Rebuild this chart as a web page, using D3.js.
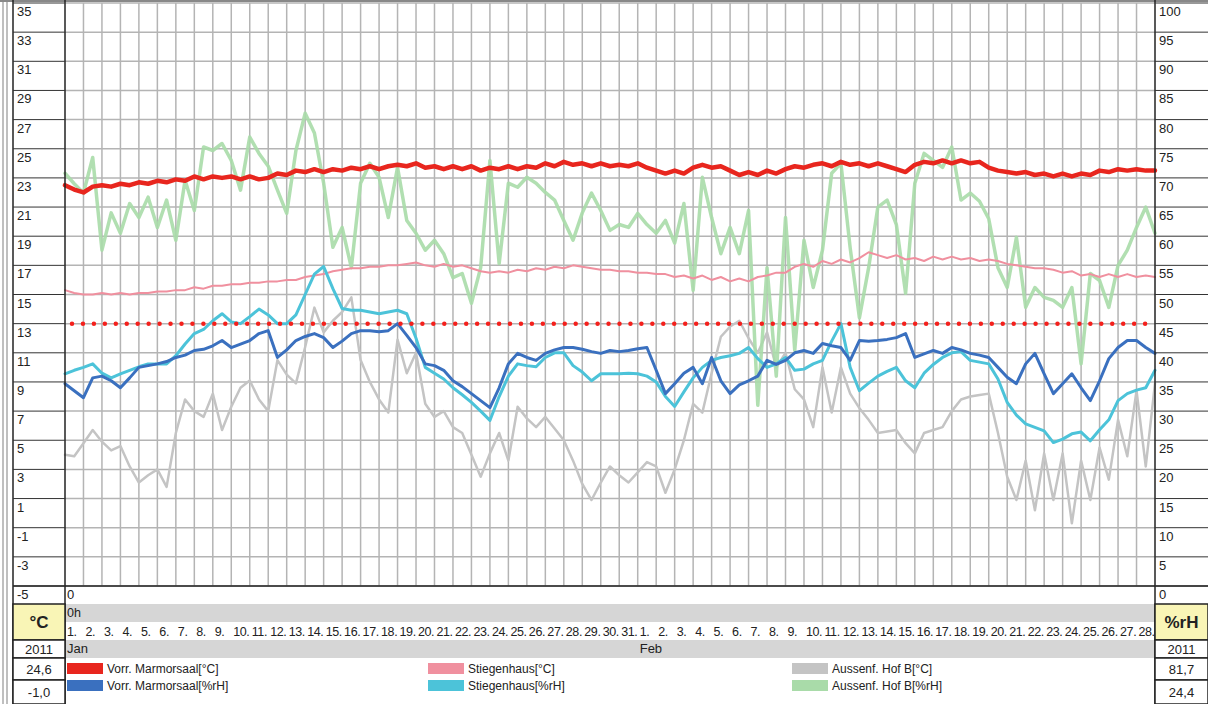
<!DOCTYPE html>
<html>
<head>
    <meta charset="utf-8">
    <title></title>
    <style>
        body { margin: 0; background: #fff; }
        text { font-family: "Liberation Sans", Arial, sans-serif; fill: #222; }
        .grid { stroke: #b4b4b4; stroke-width: 1.5px; }
        .cell { stroke: #333; stroke-width: 1px; }
        .series { fill: none; stroke-linejoin: round; stroke-linecap: round; }
    </style>
</head>
<body>
<script src="https://d3js.org/d3.v7.min.js"></script>
<script>
// months shown on the time axis
var months = ["Jan", "Feb"];
var monthDays = [31, 28];
var stepDays = 0.5; // one value every 12 h, starting 1 Jan 0h

var leftTicks = [35, 33, 31, 29, 27, 25, 23, 21, 19, 17, 15, 13, 11, 9, 7, 5, 3, 1, -1, -3, -5];
var rightTicks = [100, 95, 90, 85, 80, 75, 70, 65, 60, 55, 50, 45, 40, 35, 30, 25, 20, 15, 10, 5, 0];
var limitT = 13;

// Vorr. Marmorsaal [°C]
var marmorT = [
    22.5, 22.2, 22.0, 22.4, 22.5, 22.4, 22.6, 22.5, 22.7, 22.6,
    22.8, 22.7, 22.9, 22.8, 23.1, 22.9, 23.1, 23.0, 23.1, 22.9,
    23.1, 22.9, 23.0, 23.3, 23.2, 23.5, 23.4, 23.6, 23.4, 23.6,
    23.5, 23.7, 23.6, 23.8, 23.6, 23.8, 23.9, 23.8, 24.0, 23.7,
    23.8, 23.6, 23.8, 23.6, 23.8, 23.5, 23.7, 23.6, 23.8, 23.6,
    23.8, 23.7, 24.0, 23.8, 24.1, 23.9, 24.0, 23.8, 24.0, 23.8,
    23.9, 23.8, 24.0, 23.7, 23.5, 23.3, 23.5, 23.3, 23.7, 23.9,
    23.7, 23.8, 23.5, 23.2, 23.4, 23.2, 23.5, 23.3, 23.6, 23.8,
    23.7, 23.9, 24.0, 23.8, 24.1, 23.9, 24.0, 23.8, 24.0, 23.8,
    23.6, 23.4, 23.9, 24.1, 24.0, 24.2, 24.0, 24.2, 24.0, 24.1,
    23.7, 23.5, 23.4, 23.3, 23.4, 23.2, 23.3, 23.1, 23.3, 23.1,
    23.3, 23.2, 23.5, 23.4, 23.6, 23.5, 23.6, 23.5, 23.5
];

// Stiegenhaus [°C]
var stiegeT = [
    15.3, 15.1, 15.0, 15.0, 15.1, 15.0, 15.1, 15.0, 15.1, 15.1,
    15.2, 15.2, 15.3, 15.3, 15.5, 15.4, 15.6, 15.6, 15.7, 15.7,
    15.8, 15.8, 15.9, 15.9, 16.0, 16.0, 16.2, 16.3, 16.4, 16.6,
    16.7, 16.8, 16.8, 16.9, 16.9, 17.0, 17.0, 17.1, 17.2, 17.0,
    16.9, 17.1, 16.9, 17.0, 16.8, 16.6, 16.5, 16.6, 16.5, 16.7,
    16.6, 16.8, 16.7, 16.9, 16.8, 17.0, 16.9, 16.8, 16.7, 16.7,
    16.6, 16.6, 16.5, 16.5, 16.4, 16.4, 16.2, 16.3, 16.1, 16.3,
    16.0, 16.2, 15.9, 16.1, 15.9, 16.2, 16.3, 16.5, 16.5, 16.9,
    17.1, 16.9, 17.3, 17.1, 17.4, 17.2, 17.5, 17.9, 17.7, 17.5,
    17.7, 17.4, 17.5, 17.3, 17.6, 17.4, 17.6, 17.4, 17.5, 17.3,
    17.4, 17.3, 17.1, 17.0, 16.9, 16.8, 16.8, 16.7, 16.5, 16.6,
    16.3, 16.4, 16.2, 16.4, 16.2, 16.4, 16.2, 16.3, 16.2
];

// Aussenf. Hof B [°C]
var hofT = [
    4.0, 3.9, 4.8, 5.7, 4.9, 4.3, 4.6, 3.2, 2.1, 2.6,
    3.0, 1.8, 5.5, 7.8, 7.0, 6.6, 8.2, 5.7, 7.3, 8.6,
    9.1, 7.8, 7.0, 10.5, 9.5, 8.9, 11.4, 14.1, 12.4, 13.2,
    13.8, 14.8, 10.5, 9.0, 7.8, 6.9, 11.9, 9.6, 11.0, 7.5,
    6.6, 7.0, 5.9, 5.5, 4.0, 2.5, 4.1, 5.5, 3.6, 7.3,
    6.5, 5.9, 6.6, 5.8, 5.0, 3.6, 2.0, 0.9, 2.1, 3.2,
    2.6, 2.1, 2.8, 3.5, 3.2, 1.4, 3.0, 5.0, 7.5, 6.9,
    9.6, 12.1, 12.8, 13.2, 12.0, 11.0, 12.4, 10.0, 11.0, 8.5,
    7.8, 5.9, 10.0, 6.9, 10.0, 8.2, 7.2, 6.4, 5.5, 5.6,
    5.7, 4.8, 4.1, 5.5, 5.7, 5.9, 7.0, 7.8, 8.0, 8.1,
    8.2, 5.5, 2.5, 0.9, 3.6, 0.2, 4.1, 0.9, 4.1, -0.7,
    3.6, 0.9, 4.5, 2.3, 6.4, 3.9, 8.4, 3.2, 8.9
];

// Vorr. Marmorsaal [%rH]
var marmorH = [
    34.7, 33.5, 32.3, 35.7, 36.0, 35.2, 34.0, 35.7, 37.5, 37.8,
    38.1, 38.5, 39.2, 39.6, 40.4, 40.6, 41.2, 42.1, 40.9, 41.5,
    42.1, 43.3, 43.8, 39.2, 40.5, 42.1, 42.8, 43.3, 42.6, 40.9,
    42.0, 43.3, 43.8, 43.8, 43.6, 43.8, 45.0, 43.0, 40.9, 38.1,
    37.8, 37.0, 35.2, 34.2, 33.0, 31.8, 30.6, 34.0, 38.1, 39.9,
    39.2, 38.7, 39.9, 40.5, 40.9, 40.9, 40.6, 40.2, 39.9, 40.4,
    40.2, 40.4, 40.7, 40.9, 37.0, 33.0, 34.7, 36.5, 37.5, 34.7,
    39.2, 35.2, 33.0, 34.5, 35.2, 36.0, 38.7, 38.0, 38.7, 40.0,
    40.4, 39.9, 41.6, 41.2, 40.9, 38.7, 42.1, 42.0, 42.1, 42.3,
    42.6, 43.3, 39.2, 39.8, 40.4, 39.9, 40.9, 40.5, 39.9, 39.6,
    39.2, 37.5, 35.8, 34.7, 38.1, 39.9, 36.4, 33.0, 34.7, 36.4,
    34.0, 31.8, 35.2, 39.0, 40.9, 42.1, 42.1, 40.9, 39.9
];

// Stiegenhaus [%rH]
var stiegeH = [
    36.4, 37.0, 37.5, 38.1, 36.5, 35.7, 36.4, 37.0, 37.6, 38.1,
    38.1, 38.1, 39.5, 41.5, 43.3, 44.0, 45.5, 46.7, 45.3, 45.0,
    46.2, 47.5, 46.5, 45.0, 45.0, 46.5, 50.0, 53.5, 54.8, 51.0,
    47.6, 47.3, 47.3, 47.0, 46.7, 47.0, 47.3, 46.7, 42.5, 37.5,
    36.5, 35.5, 34.0, 32.8, 31.5, 30.0, 28.4, 32.5, 36.0, 38.1,
    37.8, 37.6, 39.2, 40.0, 40.0, 37.8, 36.7, 35.2, 36.4, 36.4,
    36.4, 36.5, 36.4, 36.0, 35.0, 32.5, 30.8, 33.3, 35.7, 37.5,
    38.7, 39.2, 39.5, 39.9, 40.9, 39.0, 37.5, 38.1, 39.2, 37.0,
    37.2, 38.1, 38.7, 42.0, 45.0, 37.5, 33.5, 34.8, 36.0, 36.8,
    37.5, 35.2, 34.0, 36.5, 38.0, 39.2, 40.0, 40.2, 38.7, 38.4,
    38.1, 35.5, 31.5, 29.3, 27.8, 27.2, 26.6, 24.6, 25.2, 26.1,
    26.4, 24.9, 26.8, 28.5, 31.8, 33.0, 33.6, 34.0, 37.0
];

// Aussenf. Hof B [%rH]
var hofH = [
    70.8, 69.0, 67.4, 73.5, 57.6, 64.0, 60.5, 65.6, 63.2, 66.7,
    61.5, 66.2, 59.3, 69.6, 64.4, 75.3, 74.7, 75.9, 73.0, 67.9,
    77.0, 74.2, 72.0, 67.9, 63.9, 74.7, 81.1, 77.7, 69.1, 58.1,
    61.5, 54.6, 69.1, 72.5, 70.1, 63.2, 71.8, 62.7, 60.5, 57.6,
    59.3, 57.0, 52.9, 53.6, 48.5, 54.6, 73.0, 55.3, 69.1, 68.4,
    70.1, 69.1, 67.5, 66.2, 62.7, 59.3, 64.0, 67.4, 64.4, 61.0,
    62.0, 61.5, 63.9, 62.0, 60.5, 62.7, 58.8, 65.6, 50.7, 70.1,
    63.2, 57.0, 61.5, 57.0, 64.4, 31.0, 54.6, 36.0, 63.2, 40.4,
    59.3, 51.2, 57.6, 70.8, 72.5, 58.0, 46.0, 54.6, 65.0, 66.2,
    62.0, 50.2, 69.1, 74.2, 73.0, 71.8, 75.3, 66.2, 67.4, 66.0,
    63.0, 54.6, 51.2, 59.8, 47.8, 51.2, 49.5, 49.0, 47.8, 51.2,
    38.1, 53.6, 52.4, 47.8, 55.0, 57.6, 61.5, 65.0, 60.5
];

var seriesNames = ["Vorr. Marmorsaal[°C]", "Vorr. Marmorsaal[%rH]", "Stiegenhaus[°C]",
    "Stiegenhaus[%rH]", "Aussenf. Hof B[°C]", "Aussenf. Hof B[%rH]"];
var seriesColors = ["#e8261e", "#3a70bf", "#f0909f", "#4cc3d9", "#c4c4c4", "#a9dba9"];

var width = 1208, height = 704;
var plotLeft = 65, plotRight = 1155, plotTop = 3, plotBottom = 586;
var totalDays = d3.sum(monthDays);

var svg = d3.select("body").append("svg")
    .attr("width", width)
    .attr("height", height);

var x = d3.scaleLinear().domain([0, totalDays]).range([plotLeft, plotRight]);
var yT = d3.scaleLinear().domain([-5, 35]).range([plotBottom, plotTop]);
var yH = d3.scaleLinear().domain([0, 100]).range([plotBottom, plotTop]);

// outer frame lines on the far left
svg.append("line").attr("x1", 3).attr("x2", 3).attr("y1", 0).attr("y2", height)
    .attr("stroke", "#aaa").attr("stroke-width", 1.5);
svg.append("line").attr("x1", 7).attr("x2", 7).attr("y1", 0).attr("y2", height)
    .attr("stroke", "#aaa").attr("stroke-width", 1.5);

// grey bands under the time axis
svg.append("rect").attr("x", plotLeft).attr("y", 604).attr("width", plotRight - plotLeft).attr("height", 18)
    .attr("fill", "#d6d6d6");
svg.append("rect").attr("x", plotLeft).attr("y", 640).attr("width", plotRight - plotLeft).attr("height", 18)
    .attr("fill", "#d6d6d6");

// grid
var dayIdx = d3.range(1, totalDays);
svg.append("g").selectAll("line")
    .data(dayIdx)
    .enter().append("line")
    .attr("class", "grid")
    .attr("x1", function(d) { return x(d); })
    .attr("x2", function(d) { return x(d); })
    .attr("y1", plotTop)
    .attr("y2", plotBottom);

svg.append("g").selectAll("line")
    .data(leftTicks)
    .enter().append("line")
    .attr("class", "grid")
    .attr("stroke", "#aaa")
    .attr("x1", plotLeft)
    .attr("x2", plotRight)
    .attr("y1", function(d) { return yT(d); })
    .attr("y2", function(d) { return yT(d); });

// series
function makeLine(scale) {
    return d3.line()
        .x(function(d, i) { return x(i * stepDays); })
        .y(function(d) { return scale(d); });
}

var layers = [
    { values: hofT, scale: yT, color: seriesColors[4], w: 2.5, op: 1 },
    { values: hofH, scale: yH, color: seriesColors[5], w: 3.5, op: 0.9 },
    { values: stiegeT, scale: yT, color: seriesColors[2], w: 2, op: 1 },
    { values: marmorT, scale: yT, color: seriesColors[0], w: 4.5, op: 1 },
    { values: stiegeH, scale: yH, color: seriesColors[3], w: 3, op: 1 },
    { values: marmorH, scale: yH, color: seriesColors[1], w: 3, op: 1 }
];

svg.append("g").selectAll("path")
    .data(layers)
    .enter().append("path")
    .attr("class", "series")
    .attr("d", function(d) { return makeLine(d.scale)(d.values); })
    .attr("stroke", function(d) { return d.color; })
    .attr("stroke-width", function(d) { return d.w; })
    .attr("stroke-opacity", function(d) { return d.op; });

// limit line (13 °C)
svg.append("line")
    .attr("x1", plotLeft + 7).attr("x2", plotRight - 4)
    .attr("y1", yT(limitT)).attr("y2", yT(limitT))
    .attr("stroke", "#f4201c")
    .attr("stroke-width", 4.5)
    .attr("stroke-linecap", "round")
    .attr("stroke-dasharray", "0 10.95");

// plot frame
svg.append("line").attr("x1", 0).attr("x2", width).attr("y1", 1).attr("y2", 1)
    .attr("stroke", "#888").attr("stroke-width", 2);
svg.append("line").attr("x1", plotLeft).attr("x2", plotLeft).attr("y1", 0).attr("y2", 704)
    .attr("stroke", "#222").attr("stroke-width", 1.5);
svg.append("line").attr("x1", plotRight).attr("x2", plotRight).attr("y1", 0).attr("y2", 704)
    .attr("stroke", "#222").attr("stroke-width", 1.5);
svg.append("line").attr("x1", 13).attr("x2", width).attr("y1", plotBottom).attr("y2", plotBottom)
    .attr("stroke", "#222").attr("stroke-width", 1.5);
svg.append("line").attr("x1", 13).attr("x2", 13).attr("y1", 0).attr("y2", 704)
    .attr("stroke", "#222").attr("stroke-width", 1.5);

// left axis cells
svg.append("g").selectAll("line")
    .data(leftTicks)
    .enter().append("line")
    .attr("class", "cell")
    .attr("x1", 13).attr("x2", plotLeft)
    .attr("y1", function(d) { return yT(d); })
    .attr("y2", function(d) { return yT(d); });

svg.append("g").selectAll("text")
    .data(leftTicks)
    .enter().append("text")
    .attr("x", 17)
    .attr("y", function(d) { return yT(d) + 13; })
    .attr("font-size", 13)
    .text(function(d) { return d; });

// right axis cells
svg.append("g").selectAll("line")
    .data(rightTicks)
    .enter().append("line")
    .attr("class", "cell")
    .attr("x1", plotRight).attr("x2", width)
    .attr("y1", function(d) { return yH(d); })
    .attr("y2", function(d) { return yH(d); });

svg.append("g").selectAll("text")
    .data(rightTicks)
    .enter().append("text")
    .attr("x", plotRight + 4)
    .attr("y", function(d) { return yH(d) + 13; })
    .attr("font-size", 13)
    .text(function(d) { return d; });

// info boxes below the axes
var boxes = [
    { x0: 13, x1: plotLeft, y0: 604, y1: 640, label: "°C", fill: "#f9f5b6", bold: true },
    { x0: 13, x1: plotLeft, y0: 640, y1: 658, label: "2011", fill: "#fff" },
    { x0: 13, x1: plotLeft, y0: 658, y1: 680, label: "24,6", fill: "#fff" },
    { x0: 13, x1: plotLeft, y0: 680, y1: 704, label: "-1,0", fill: "#fff" },
    { x0: plotRight, x1: width, y0: 604, y1: 640, label: "%rH", fill: "#f9f5b6", bold: true },
    { x0: plotRight, x1: width, y0: 640, y1: 658, label: "2011", fill: "#fff" },
    { x0: plotRight, x1: width, y0: 658, y1: 680, label: "81,7", fill: "#fff" },
    { x0: plotRight, x1: width, y0: 680, y1: 704, label: "24,4", fill: "#fff" }
];

var box = svg.append("g").selectAll("g")
    .data(boxes)
    .enter().append("g");

box.append("rect")
    .attr("x", function(d) { return d.x0; })
    .attr("y", function(d) { return d.y0; })
    .attr("width", function(d) { return d.x1 - d.x0; })
    .attr("height", function(d) { return d.y1 - d.y0; })
    .attr("fill", function(d) { return d.fill; })
    .attr("stroke", "#222")
    .attr("stroke-width", 1.5);

box.append("text")
    .attr("x", function(d) { return (d.x0 + d.x1) / 2; })
    .attr("y", function(d) { return (d.y0 + d.y1) / 2 + (d.bold ? 6 : 5); })
    .attr("text-anchor", "middle")
    .attr("font-size", function(d) { return d.bold ? 17 : 13; })
    .attr("font-weight", function(d) { return d.bold ? "bold" : "normal"; })
    .text(function(d) { return d.label; });

// time axis texts
svg.append("text").attr("x", plotLeft + 2).attr("y", 599).attr("font-size", 13).text("0");
svg.append("text").attr("x", plotLeft + 2).attr("y", 617).attr("font-size", 12.5).text("0h");

var dayLabels = [];
var offset = 0;
months.forEach(function(m, k) {
    for (var n = 1; n <= monthDays[k]; n++) {
        dayLabels.push({ idx: offset + n - 1, label: n + "." });
    }
    svg.append("text")
        .attr("x", x(offset) + 2)
        .attr("y", 653)
        .attr("font-size", 13)
        .text(m);
    offset += monthDays[k];
});

svg.append("g").selectAll("text")
    .data(dayLabels)
    .enter().append("text")
    .attr("x", function(d) { return x(d.idx) + 2; })
    .attr("y", 636)
    .attr("font-size", 12.5)
    .attr("letter-spacing", -0.4)
    .text(function(d) { return d.label; });

// legend
var legendX = [67, 428, 792];
var legend = svg.append("g").selectAll("g")
    .data(seriesNames)
    .enter().append("g")
    .attr("transform", function(d, i) {
        return "translate(" + legendX[Math.floor(i / 2)] + "," + (663 + (i % 2) * 17) + ")";
    });

legend.append("rect")
    .attr("width", 36)
    .attr("height", 11)
    .attr("fill", function(d, i) { return seriesColors[i]; });

legend.append("text")
    .attr("x", 40)
    .attr("y", 10)
    .attr("font-size", 12)
    .attr("fill", "#333")
    .text(function(d) { return d; });
</script>
</body>
</html>
